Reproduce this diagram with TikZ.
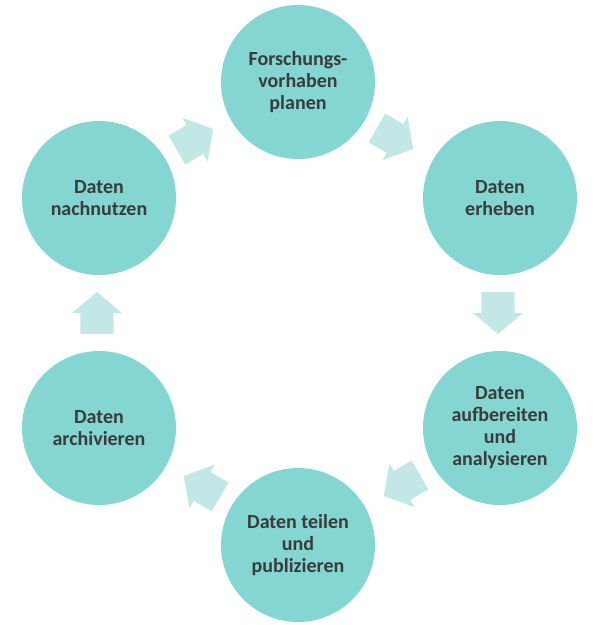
\documentclass[tikz,border=0pt]{standalone}
\usepackage{fontspec}
\setmainfont{Carlito}
\usetikzlibrary{shapes.arrows}
\definecolor{kreis}{RGB}{131,214,210}
\definecolor{pfeil}{RGB}{193,231,230}
\definecolor{schrift}{RGB}{59,59,59}

\begin{document}
\begin{tikzpicture}[x=1pt,y=-1pt,font=\fontsize{20}{22}\selectfont\bfseries]
 \tikzstyle{phase}=[circle,fill=kreis,minimum size=154pt,inner sep=0pt,text=schrift,align=center]
 \tikzstyle{schritt}=[single arrow,fill=pfeil,inner sep=0pt,text height=33pt,text depth=0pt,text width=0pt,
   minimum height=42pt,single arrow head extend=8.5pt,single arrow tip angle=100]
   \useasboundingbox (0,0) rectangle (595,625);

   \node[phase] (planen) at (298,82) {Forschungs-\\vorhaben\\planen};
   \node[phase] (erheben) at (500,198) {Daten\\erheben};
   \node[phase] (aufbereiten) at (500,428) {Daten\\aufbereiten\\und\\analysieren};
   \node[phase] (teilen) at (298,545) {Daten teilen\\und\\publizieren};
   \node[phase] (archivieren) at (99,428) {Daten\\archivieren};
   \node[phase] (nachnutzen) at (99,198) {Daten\\nachnutzen};

   % Pfeile zwischen den Phasen
   \node[schritt,rotate=30] (p1) at (189,143) {};
   \node[schritt,rotate=-30] (p2) at (389,135) {};
   \node[schritt,rotate=-90] (p3) at (498,306) {};
   \node[schritt,rotate=210] (p4) at (408,482) {};
   \node[schritt,rotate=150] (p5) at (208,490) {};
   \node[schritt,rotate=90] (p6) at (97,320) {};

\end{tikzpicture}
\end{document}
